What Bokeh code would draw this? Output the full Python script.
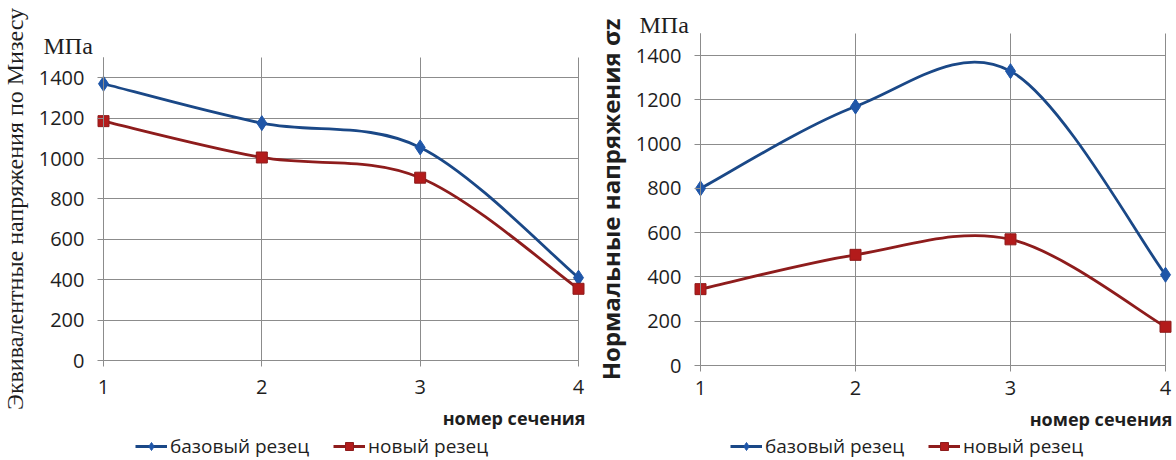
from bokeh.plotting import figure
from bokeh.layouts import row
from bokeh.models import (ColumnDataSource, FixedTicker, Legend, LegendItem, Range1d, Label, Grid)
from bokeh.embed import file_html
from bokeh.resources import INLINE

# ---- data ----
sections = [1, 2, 3, 4]
y_ticks = [0, 200, 400, 600, 800, 1000, 1200, 1400]
y_max = 1500

mises_base = [1370, 1175, 1055, 410]
mises_new = [1185, 1005, 905, 355]

normal_base = [800, 1170, 1330, 410]
normal_new = [345, 500, 570, 175]

series_names = ["базовый резец", "новый резец"]
left_ylabel = "Эквивалентные напряжения по Мизесу"
right_ylabel = "Нормальные напряжения σz"
unit_label = "МПа"
x_title = "номер сечения"

BLUE_LINE = "#1a4887"
BLUE_MARK = "#1f56a8"
RED_LINE = "#8e1c1c"
RED_MARK = "#b31b1b"
GRID = "#8c8c8c"
TEXT = "#1e1e1e"
SANS = "Open Sans"
LW = 2.8


def smooth_segments(xs, ys):
    """Excel-like smoothed line: cubic Bezier segments through the data points."""
    n = len(xs)
    d = dict(x0=[], y0=[], x1=[], y1=[], cx0=[], cy0=[], cx1=[], cy1=[])
    for i in range(n - 1):
        p0 = (xs[max(i - 1, 0)], ys[max(i - 1, 0)])
        p1 = (xs[i], ys[i])
        p2 = (xs[i + 1], ys[i + 1])
        p3 = (xs[min(i + 2, n - 1)], ys[min(i + 2, n - 1)])
        d["x0"].append(p1[0]); d["y0"].append(p1[1])
        d["x1"].append(p2[0]); d["y1"].append(p2[1])
        d["cx0"].append(p1[0] + (p2[0] - p0[0]) / 6.0)
        d["cy0"].append(p1[1] + (p2[1] - p0[1]) / 6.0)
        d["cx1"].append(p2[0] - (p3[0] - p1[0]) / 6.0)
        d["cy1"].append(p2[1] - (p3[1] - p1[1]) / 6.0)
    return ColumnDataSource(d)


HAS_CROSS = "cross_bounds" in Grid.properties()


def make_panel(width, height, px_x1, px_x4, px_top, px_zero, base, new, ylabel,
               ylabel_font, ylabel_style, ylabel_size, ylabel_standoff, x_standoff,
               unit_xy, title_xy, legend_xy):
    # whole canvas is the frame; axes sit at fixed locations inside it
    ux = (sections[-1] - sections[0]) / (px_x4 - px_x1)
    uy = y_max / (px_zero - px_top)
    xr = Range1d(sections[0] - px_x1 * ux, sections[-1] + (width - px_x4) * ux)
    yr = Range1d(-(height - px_zero) * uy, y_max + px_top * uy)
    p = figure(width=width, height=height, output_backend="svg", toolbar_location=None,
               min_border=0, min_border_left=0, min_border_right=0,
               min_border_top=0, min_border_bottom=0, x_range=xr, y_range=yr)
    p.outline_line_color = None
    p.background_fill_color = "white"
    p.border_fill_color = "white"

    for ax in (p.xaxis[0], p.yaxis[0]):
        ax.axis_line_color = GRID
        ax.axis_line_width = 1
        ax.major_tick_line_color = GRID
        ax.major_tick_in = 0
        ax.major_tick_out = 6
        ax.minor_tick_line_color = None
        ax.major_label_text_font = SANS
        ax.major_label_text_font_size = "20px"
        ax.major_label_text_color = TEXT
    p.xaxis.fixed_location = 0
    p.yaxis.fixed_location = sections[0]
    p.xaxis.bounds = (sections[0], sections[-1])
    p.yaxis.bounds = (0, y_max)
    p.xaxis.ticker = FixedTicker(ticks=sections)
    p.yaxis.ticker = FixedTicker(ticks=y_ticks)
    p.xaxis.major_label_standoff = x_standoff
    p.yaxis.major_label_standoff = 13

    p.yaxis.axis_label = ylabel
    p.yaxis.axis_label_text_font = ylabel_font
    p.yaxis.axis_label_text_font_style = ylabel_style
    p.yaxis.axis_label_text_font_size = ylabel_size
    p.yaxis.axis_label_text_color = TEXT
    p.yaxis.axis_label_standoff = ylabel_standoff

    p.xgrid.ticker = FixedTicker(ticks=sections)
    p.ygrid.ticker = FixedTicker(ticks=y_ticks)
    p.grid.grid_line_color = GRID
    p.grid.grid_line_width = 1
    if HAS_CROSS:
        p.xgrid.cross_bounds = (0, y_max)
        p.ygrid.cross_bounds = (sections[0], sections[-1])
    else:
        p.grid.visible = False
        p.segment(x0=sections, y0=[0] * len(sections), x1=sections,
                  y1=[y_max] * len(sections), line_color=GRID, line_width=1)
        p.segment(x0=[sections[0]] * len(y_ticks), y0=y_ticks,
                  x1=[sections[-1]] * len(y_ticks), y1=y_ticks, line_color=GRID, line_width=1)

    # smoothed lines
    bb = p.bezier(source=smooth_segments(sections, base), line_color=BLUE_LINE, line_width=LW)
    bn = p.bezier(source=smooth_segments(sections, new), line_color=RED_LINE, line_width=LW)

    sb = p.scatter(sections, base, marker="diamond", size=15, fill_color=BLUE_MARK,
                   line_color=BLUE_MARK)
    sn = p.scatter(sections, new, marker="square", size=11, fill_color=RED_MARK,
                   line_color=RED_LINE)

    p.add_layout(Label(x=unit_xy[0], y=unit_xy[1], x_units="screen", y_units="screen",
                       text=unit_label, text_font="Liberation Serif", text_font_size="24px",
                       text_color=TEXT, text_align="left", text_baseline="middle"))
    p.add_layout(Label(x=title_xy[0], y=title_xy[1], x_units="screen", y_units="screen",
                       text=x_title, text_font=SANS, text_font_style="bold",
                       text_font_size="18px", text_color=TEXT,
                       text_align="right", text_baseline="middle"))

    legend = Legend(items=[LegendItem(label=series_names[0], renderers=[bb, sb]),
                           LegendItem(label=series_names[1], renderers=[bn, sn])],
                    orientation="horizontal", location=legend_xy,
                    border_line_color=None, background_fill_alpha=0,
                    padding=0, margin=0, spacing=24,
                    glyph_width=32, glyph_height=20, label_height=20,
                    label_standoff=3,
                    label_text_font=SANS, label_text_font_size="19px",
                    label_text_color=TEXT)
    p.add_layout(legend, "center")
    return p


left_panel = make_panel(590, 460, 103, 578, 57, 360, mises_base, mises_new, left_ylabel,
                        "Liberation Serif", "normal", "24px", 8, 13,
                        (43, 415), (585, 43), (135, 1))
right_panel = make_panel(586, 460, 110, 575, 33, 365, normal_base, normal_new, right_ylabel,
                         SANS, "bold", "24px", 6, 9,
                         (49, 436), (582, 42), (140, 1))

layout = row(left_panel, right_panel)
open("out.html", "w").write(file_html(layout, INLINE))
